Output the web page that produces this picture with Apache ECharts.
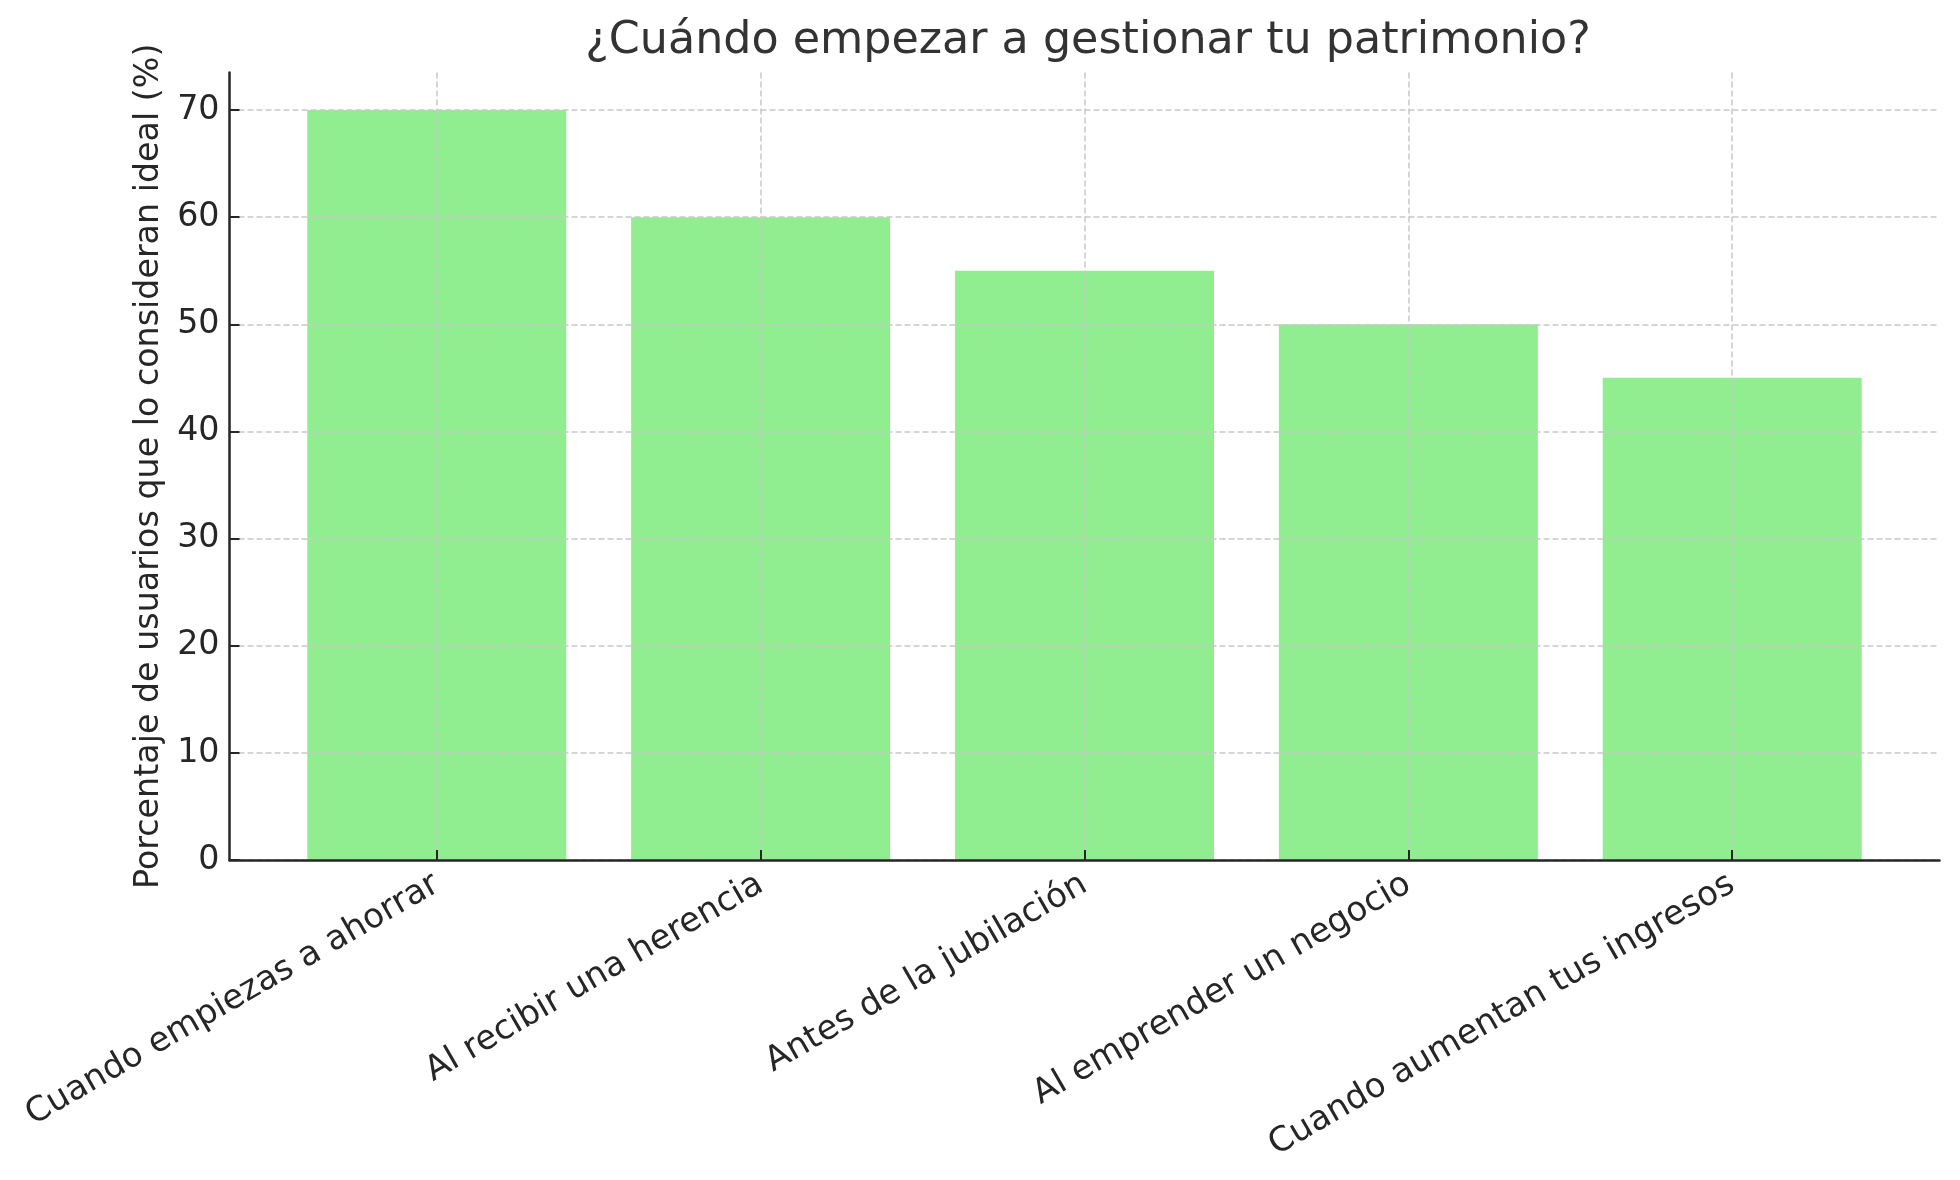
<!DOCTYPE html>
<html>
<head>
<meta charset="utf-8">
<script src="https://cdn.jsdelivr.net/npm/echarts@6/dist/echarts.min.js"></script>
<style>
html,body{margin:0;padding:0;background:#fff;}
#chart{width:1960px;height:1180px;}
</style>
</head>
<body>
<div id="chart"></div>
<script>
const titleText = '¿Cuándo empezar a gestionar tu patrimonio?';
const yAxisName = 'Porcentaje de usuarios que lo consideran ideal (%)';
const categories = ['Cuando empiezas a ahorrar', 'Al recibir una herencia', 'Antes de la jubilación', 'Al emprender un negocio', 'Cuando aumentan tus ingresos'];
const values = [70, 60, 55, 50, 45];
const yTicks = [0, 10, 20, 30, 40, 50, 60, 70];
const catPositions = [0, 1, 2, 3, 4];

const font = 'DejaVu Sans';
const chart = echarts.init(document.getElementById('chart'), null, {renderer: 'canvas'});
const gridStyle = {show: true, lineStyle: {color: '#c8c8c8', width: 1.5, type: [6, 3]}};

chart.setOption({
  backgroundColor: '#ffffff',
  animation: false,
  title: {
    text: titleText,
    left: 1083, top: 14, textAlign: 'center',
    textStyle: {fontFamily: font, fontSize: 44.4, fontWeight: 'normal', color: '#333333'}
  },
  grid: {left: 229.5, right: 20.5, top: 72.5, bottom: 320, containLabel: false},
  xAxis: {
    type: 'value', min: -0.64, max: 4.64, z: 5,
    axisLine: {show: true, onZero: false, lineStyle: {color: '#262626', width: 2.5}},
    axisTick: {show: true, inside: true, length: 10, customValues: catPositions, lineStyle: {color: '#262626', width: 2}},
    axisLabel: {
      customValues: catPositions, rotate: 30, margin: 22,
      fontFamily: font, fontSize: 34, color: '#262626',
      formatter: v => categories[Math.round(v)]
    },
    splitLine: gridStyle
  },
  yAxis: {
    type: 'value', min: 0, max: 73.5, z: 5,
    name: yAxisName, nameLocation: 'middle', nameGap: 64, nameRotate: 90,
    nameTextStyle: {fontFamily: font, fontSize: 33.3, color: '#262626'},
    axisLine: {show: true, onZero: false, lineStyle: {color: '#262626', width: 2.5}},
    axisTick: {show: true, inside: true, length: 10, customValues: yTicks, lineStyle: {color: '#262626', width: 2}},
    axisLabel: {customValues: yTicks, margin: 10, fontFamily: font, fontSize: 33.3, color: '#262626'},
    splitLine: gridStyle
  },
  series: [{
    type: 'bar', barWidth: 259,
    data: values.map((v, i) => [catPositions[i], v]),
    itemStyle: {color: '#90EE90'},
    z: 2
  }]
});
</script>
</body>
</html>
